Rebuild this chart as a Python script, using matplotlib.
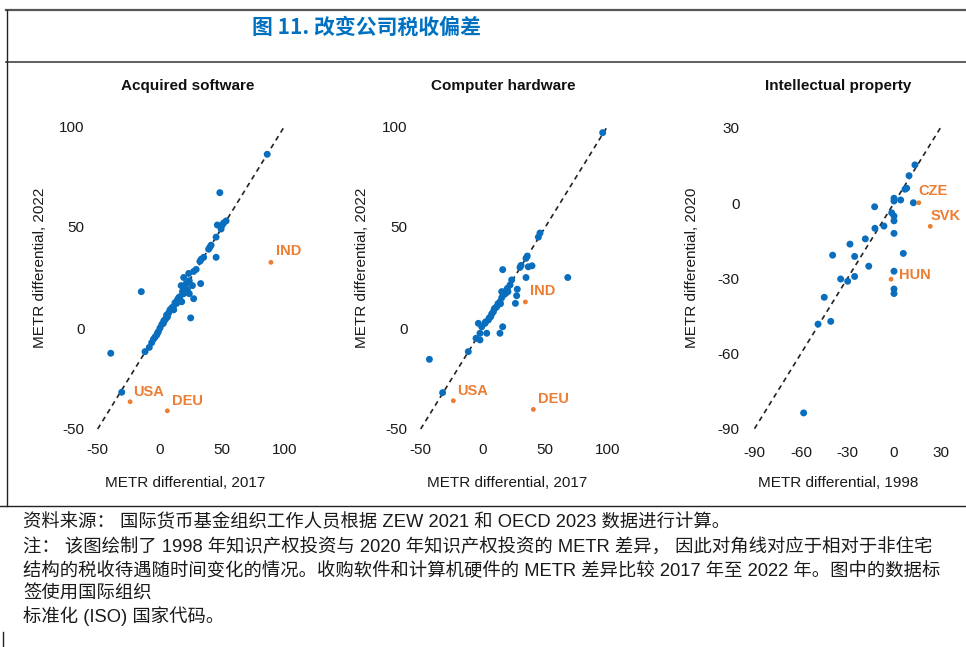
import matplotlib
matplotlib.use("Agg")
import matplotlib.pyplot as plt
from matplotlib.lines import Line2D

plt.rcParams['font.family'] = ['Liberation Sans', 'Noto Sans CJK SC', 'DejaVu Sans']
plt.rcParams['axes.unicode_minus'] = False

# ---------------- data ----------------
title = "图 11. 改变公司税收偏差"
panel_titles = ["Acquired software", "Computer hardware", "Intellectual property"]
xlabels = ["METR differential, 2017", "METR differential, 2017", "METR differential, 1998"]
ylabels = ["METR differential, 2022", "METR differential, 2022", "METR differential, 2020"]
ticks_sw = [-50, 0, 50, 100]
ticks_ip = [-90, -60, -30, 0, 30]

sw_x = [86, 48, 53, 51, 50, 46, 49, 45, 41, 40, 39, 45, 35, 33, 32, 29, 27, 23, 19, 17, 21, 23.5, 26,
        32.6, 22, 23.5, 27, 16, 17.4, 13.4, 15, 14, 12, -15, 24.6, 10.7, 9.5, 8, 7, 5.3, 4.8, 4, 2.7,
        1.5, 0, -1.3, -2, -2.7, -4, -5.3, -6.7, -8.6, -12, -39.5, -30.7, 18, 20, 19, 6, 11, 3]
sw_y = [86, 67, 53, 52, 51, 51, 49, 45, 41, 40, 39, 35, 35, 34, 33, 29, 28, 27, 25, 21, 22, 23.4, 21,
        22, 19, 17, 14.5, 15.5, 13, 12.2, 15, 14, 12.5, 18, 5, 10.5, 10, 9, 7.5, 6.4, 4.8, 4, 2.3,
        1.8, 0, -1.8, -2.5, -3.5, -4.5, -5.6, -7.3, -9.6, -11.7, -12.5, -31.8, 18, 20, 17, 5.5, 9, 3.5]
sw_lab = ["USA", "DEU", "IND"]
sw_lab_x = [-24, 5.9, 89]
sw_lab_y = [-36.5, -41, 32.5]

hw_x = [96, 45.7, 44.4, 35.5, 34.5, 30.5, 29.7, 36.3, 39.3, 34.5, 15.8, 68, 23, 21.7, 19.5, 27.5, 17.6,
        15, 27, 26, 16.3, 15, 13.6, 12, 11, 10, 8.3, 7, 6.2, 5, 4.3, 1.6, -3.7, -1, -2.4, -5.6, -2.4,
        3, 15.8, 13.6, -11.8, -43, -32.4, 18, 20, 14, 9, 2]
hw_y = [96.7, 47, 45, 35.6, 34.5, 31, 30, 30.3, 30.8, 25, 28.9, 25, 23.8, 21.3, 19.6, 19.2, 18,
        18, 16, 12.2, 16.3, 15, 13, 12, 10.5, 10, 8, 7, 5.6, 5, 4, 2.3, 2.3, 0.6, -2.6, -5.1, -5.9,
        -2.6, 0.6, -2.6, -11.7, -15.5, -32, 17, 18, 12, 9.5, 3]
hw_lab = ["USA", "DEU", "IND"]
hw_lab_x = [-23.8, 40.4, 34]
hw_lab_y = [-36, -40.3, 12.9]

ip_x = [13.5, 9.7, 8.2, 7.1, 0, 0, 4.3, 12.5, -12.5, -1.5, 0, 0, -6.5, -12.3, 0, -18.5, -28.4,
        -39.6, -25.4, 6, -16.3, 0, -34.4, -29.9, -25.4, 0, 0, -45, -49, -40.8, -58.3]
ip_y = [15.2, 10.9, 5.9, 5.5, 1.9, 0.8, 1.2, 0.1, -1.5, -3.9, -5.2, -7.1, -9.2, -10.1, -12.1, -14.3,
        -16.4, -20.8, -21.3, -20.1, -25.2, -27.2, -30.3, -31.2, -29.3, -34.3, -36.1, -37.6, -48.3,
        -47.2, -83.7]
ip_lab = ["CZE", "SVK", "HUN"]
ip_lab_x = [16, 23.4, -1.9]
ip_lab_y = [0.1, -9.3, -30.4]

source_line = "资料来源： 国际货币基金组织工作人员根据 ZEW 2021 和 OECD 2023 数据进行计算。"
note_lines = [
    "注： 该图绘制了 1998 年知识产权投资与 2020 年知识产权投资的 METR 差异， 因此对角线对应于相对于非住宅",
    "结构的税收待遇随时间变化的情况。收购软件和计算机硬件的 METR 差异比较 2017 年至 2022 年。图中的数据标",
    "签使用国际组织",
    "标准化 (ISO) 国家代码。",
]

BLUE = "#0a6ebe"
ORANGE = "#ec7d32"
W, H = 966, 647

fig = plt.figure(figsize=(W / 100, H / 100), dpi=100)


def px_axes(x0px, y0px, sx, sy, lim):
    """Axes whose data origin sits at pixel (x0px, y0px), with sx/sy px per unit."""
    lo, hi = lim
    left = x0px + lo * sx
    right = x0px + hi * sx
    top = y0px - hi * sy
    bottom = y0px - lo * sy
    ax = fig.add_axes([left / W, 1 - bottom / H, (right - left) / W, (bottom - top) / H])
    ax.set_xlim(lo, hi)
    ax.set_ylim(lo, hi)
    return ax


panels = [
    dict(origin=(160, 328), sx=1.2467, sy=2.02, lim=(-52, 102), ticks=ticks_sw, diag=(-50, 100),
         x=sw_x, y=sw_y, lab=sw_lab, lx=sw_lab_x, ly=sw_lab_y,
         offs=[(3, 3), (5, 3), (5, 4)], ylabx=40, tcx=188, xlx=185),
    dict(origin=(483, 328), sx=1.2467, sy=2.02, lim=(-52, 102), ticks=ticks_sw, diag=(-50, 100),
         x=hw_x, y=hw_y, lab=hw_lab, lx=hw_lab_x, ly=hw_lab_y,
         offs=[(4, 3), (5, 3), (5, 4)], ylabx=362, tcx=503, xlx=507),
    dict(origin=(894, 203), sx=1.55, sy=2.508, lim=(-93, 33), ticks=ticks_ip, diag=(-90, 30),
         x=ip_x, y=ip_y, lab=ip_lab, lx=ip_lab_x, ly=ip_lab_y,
         offs=[(0, 5), (0, 3), (8, 4)], ylabx=692, tcx=838, xlx=838),
]

for i, p in enumerate(panels):
    ax = px_axes(p['origin'][0], p['origin'][1], p['sx'], p['sy'], p['lim'])
    for s in ax.spines.values():
        s.set_visible(False)
    ax.set_xticks(p['ticks'])
    ax.set_yticks(p['ticks'])
    ax.set_xticklabels([str(t) for t in p['ticks']])
    ax.set_yticklabels([str(t) for t in p['ticks']])
    ax.tick_params(length=0, labelsize=11, colors='#1a1a1a')
    ax.tick_params(axis='x', pad=7)
    ax.tick_params(axis='y', pad=7.5)
    d0, d1 = p['diag']
    ax.plot([d0, d1], [d0, d1], color='#222222', lw=1.2, ls=(0, (3, 2.5)), zorder=1)
    ax.scatter(p['x'], p['y'], s=25, color=BLUE, edgecolors='none', zorder=3)
    ax.scatter(p['lx'], p['ly'], s=12, color=ORANGE, edgecolors='none', zorder=3)
    for name, xx, yy, off in zip(p['lab'], p['lx'], p['ly'], p['offs']):
        va = 'center' if name == 'HUN' else 'bottom'
        ax.annotate(name, (xx, yy), xytext=off, textcoords='offset pixels',
                    ha='left', va=va, color=ORANGE, fontsize=10.5, fontweight='bold')
    fig.text(p['xlx'] / W, 1 - 483 / H, xlabels[i], ha='center', va='center',
             fontsize=11, color='#1a1a1a')
    fig.text(p['ylabx'] / W, 1 - 268 / H, ylabels[i], ha='center', va='center', rotation=90,
             fontsize=11, color='#1a1a1a')
    fig.text(p['tcx'] / W, 1 - 86 / H, panel_titles[i], ha='center', va='center',
             fontsize=11, fontweight='bold', color='#111111')

# title and frame
fig.text(252 / W, 1 - 27 / H, title, ha='left', va='center', fontsize=15, fontweight='bold',
         color='#0070C0', family=['Noto Sans CJK SC', 'DejaVu Sans'])


def hline(y, x0, x1, color, lw):
    fig.add_artist(Line2D([x0 / W, x1 / W], [1 - y / H, 1 - y / H], color=color, lw=lw,
                          transform=fig.transFigure))


def vline(x, y0, y1, color, lw):
    fig.add_artist(Line2D([x / W, x / W], [1 - y0 / H, 1 - y1 / H], color=color, lw=lw,
                          transform=fig.transFigure))


hline(10, 6, W, '#555555', 1.6)
hline(62, 6, W, '#444444', 1.2)
vline(7, 10, 506, '#222222', 1.0)
hline(506, 0, W, '#222222', 1.0)
vline(3, 632, H, '#222222', 1.0)

# notes
fig.text(23 / W, 1 - 522 / H, source_line, ha='left', va='center', fontsize=13.2, color='#1a1a1a')
for yy, line in zip([548, 571, 594, 616], note_lines):
    fig.text(23 / W, 1 - yy / H, line, ha='left', va='center', fontsize=13.2, color='#1a1a1a')

fig.savefig("out.png", dpi=100)
